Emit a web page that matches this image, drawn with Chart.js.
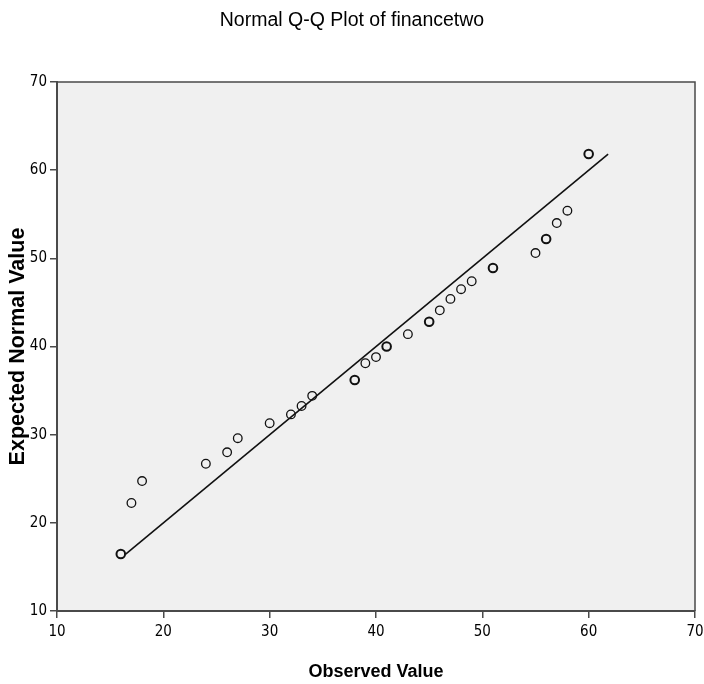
<!DOCTYPE html>
<html>
<head>
<meta charset="utf-8">
<title>Normal Q-Q Plot of financetwo</title>
<script src="https://cdn.jsdelivr.net/npm/chart.js@4.4.0/dist/chart.umd.min.js"></script>
<style>
    body { margin: 0; background: #fff; }
</style>
</head>
<body>
<canvas id="qqChart" width="704" height="684"></canvas>
<script>
// observed values and the expected normal value SPSS gives each one
let observed = [16, 17, 18, 24, 26, 27, 30, 32, 33, 34, 38, 39, 40, 41, 43, 45, 46, 47, 48, 49, 51, 55, 56, 57, 58, 60];
let expected = [16.46, 22.25, 24.74, 26.7, 28.0, 29.6, 31.3, 32.3, 33.25, 34.4, 36.2, 38.1, 38.8, 40.0, 41.4, 42.8, 44.1, 45.4, 46.5, 47.4, 48.9, 50.6, 52.2, 54.0, 55.4, 61.83];
// how many cases share each point (tied values print as a heavier circle)
let ties = [2, 1, 1, 1, 1, 1, 1, 1, 1, 1, 2, 1, 1, 2, 1, 2, 1, 1, 1, 1, 2, 1, 2, 1, 1, 3];
// reference line y = x, from the smallest to the largest expected value
let lineEnds = [16.46, 61.83];
let tickValues = [10, 20, 30, 40, 50, 60, 70];

const narrow = "'Liberation Sans Narrow', 'DejaVu Sans Condensed', 'Arial Narrow', sans-serif";
const arial = "'Liberation Sans', Arial, sans-serif";
const axisColor = '#4a4a4a';


function qqPoints() {
    let points = [];
    for (let i = 0; i < observed.length; i++) {
        points.push({ x: observed[i], y: expected[i] });
    }
    return points;
}


function linePoints() {
    return lineEnds.map(v => ({ x: v, y: v }));
}


function setTicks(scale) {
    scale.ticks = tickValues.map(v => ({ value: v }));
}


// grey plot area plus the thin top / right frame
const plotFrame = {
    id: 'plotFrame',
    beforeDraw(chart) {
        let { ctx, chartArea } = chart;
        ctx.save();
        ctx.fillStyle = '#f0f0f0';
        ctx.fillRect(chartArea.left, chartArea.top, chartArea.right - chartArea.left, chartArea.bottom - chartArea.top);
        ctx.restore();
    },
    afterDraw(chart) {
        let { ctx, chartArea } = chart;
        ctx.save();
        ctx.strokeStyle = axisColor;
        ctx.lineWidth = 1.5;
        ctx.beginPath();
        ctx.moveTo(chartArea.left, chartArea.top);
        ctx.lineTo(chartArea.right, chartArea.top);
        ctx.lineTo(chartArea.right, chartArea.bottom);
        ctx.stroke();
        ctx.restore();
    }
};


function drawChart() {
    const ctx = document.getElementById('qqChart');

    new Chart(ctx, {
        type: 'scatter',
        data: {
            datasets: [{
                data: qqPoints(),
                pointStyle: 'circle',
                pointRadius: 4.3,
                backgroundColor: 'rgba(0, 0, 0, 0)',
                borderColor: '#111',
                borderWidth: c => ties[c.dataIndex] > 1 ? 2 : 1.3,
                order: 1
            }, {
                type: 'line',
                data: linePoints(),
                borderColor: '#111',
                borderWidth: 1.6,
                pointRadius: 0,
                fill: false,
                order: 2
            }]
        },
        options: {
            responsive: false,
            animation: false,
            layout: {
                padding: { left: 0, right: 0, top: 0, bottom: 0 }
            },
            scales: {
                x: {
                    type: 'linear',
                    min: 10,
                    max: 70,
                    afterBuildTicks: setTicks,
                    afterFit: scale => {
                        scale.height = 73;
                        scale.paddingRight = 9;
                    },
                    border: { display: true, color: axisColor, width: 2 },
                    grid: { drawOnChartArea: false, drawTicks: true, tickLength: 7, color: axisColor, lineWidth: 1.5 },
                    ticks: {
                        color: '#000',
                        padding: 5,
                        maxRotation: 0,
                        font: { family: narrow, size: 15 }
                    },
                    title: {
                        display: true,
                        text: 'Observed Value',
                        color: '#000',
                        padding: { top: 0, bottom: 1 },
                        font: { family: arial, size: 18, weight: 'bold' }
                    }
                },
                y: {
                    type: 'linear',
                    min: 10,
                    max: 70,
                    afterBuildTicks: setTicks,
                    afterFit: scale => { scale.width = 57; },
                    border: { display: true, color: axisColor, width: 2 },
                    grid: { drawOnChartArea: false, drawTicks: true, tickLength: 7, color: axisColor, lineWidth: 1.5 },
                    ticks: {
                        color: '#000',
                        padding: 3,
                        font: { family: narrow, size: 15 }
                    },
                    title: {
                        display: true,
                        text: 'Expected Normal Value',
                        color: '#000',
                        padding: { top: 5, bottom: 0 },
                        font: { family: arial, size: 21.5, weight: 'bold' }
                    }
                }
            },
            plugins: {
                legend: { display: false },
                tooltip: { enabled: false },
                title: {
                    display: true,
                    text: 'Normal Q-Q Plot of financetwo',
                    color: '#000',
                    padding: { top: 9, bottom: 49.6 },
                    font: { family: arial, size: 19.5, weight: 'normal' }
                }
            }
        },
        plugins: [plotFrame]
    });
}


drawChart();
</script>
</body>
</html>
